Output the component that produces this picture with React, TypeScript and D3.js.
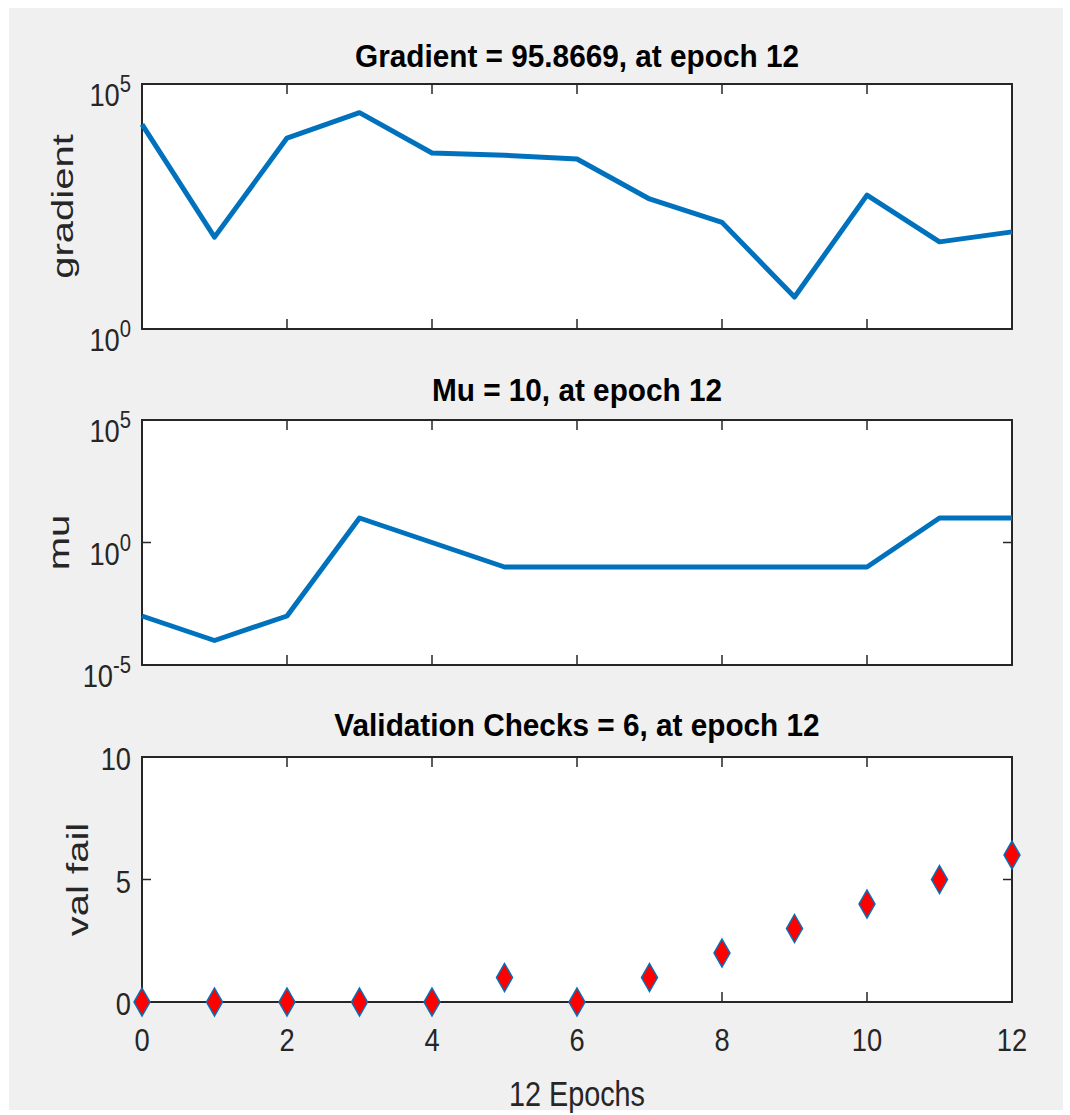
import React from "react";
import * as d3 from "d3";

const epochs = [0, 1, 2, 3, 4, 5, 6, 7, 8, 9, 10, 11, 12];
const gradientValues = [15000, 75, 7900, 26000, 3900, 3500, 2950, 450, 150, 4.5, 540, 60, 95.8669];
const muValues = [0.001, 0.0001, 0.001, 10, 1, 0.1, 0.1, 0.1, 0.1, 0.1, 0.1, 10, 10];
const valFailValues = [0, 0, 0, 0, 0, 1, 0, 1, 2, 3, 4, 5, 6];
const xTicks = [0, 2, 4, 6, 8, 10, 12];
const gradientTicks = [1e0, 1e5];
const muTicks = [1e-5, 1e0, 1e5];
const valTicks = [0, 5, 10];
const titles = ["Gradient = 95.8669, at epoch 12", "Mu = 10, at epoch 12", "Validation Checks = 6, at epoch 12"];
const yLabels = ["gradient", "mu", "val fail"];
const xLabel = "12 Epochs";

const FONT = "'Liberation Sans', Arial, Helvetica, sans-serif";
const AX = "#262626";
const BLUE = "#0072BD";

const L = 142, R = 1012;
const x = d3.scaleLinear().domain([0, 12]).range([L, R]);

const panels = [
  { top: 84, bottom: 329 },
  { top: 420, bottom: 665 },
  { top: 757, bottom: 1002 },
];

function SText({ x, y, sx = 1, sy = 1, rotate = 0, children, ...rest }: any) {
  return (
    <g transform={`translate(${x},${y}) rotate(${rotate}) scale(${sx},${sy})`}>
      <text fontFamily={FONT} {...rest}>{children}</text>
    </g>
  );
}

function Frame({ p, yTickPos }: { p: { top: number; bottom: number }; yTickPos: number[] }) {
  return (
    <g>
      <rect x={L} y={p.top} width={R - L} height={p.bottom - p.top} fill="#fff" />
      {xTicks.map((t) => (
        <g key={t}>
          <line x1={x(t)} x2={x(t)} y1={p.bottom} y2={p.bottom - 10} stroke={AX} strokeWidth={1.5} />
          <line x1={x(t)} x2={x(t)} y1={p.top} y2={p.top + 10} stroke={AX} strokeWidth={1.5} />
        </g>
      ))}
      {yTickPos.map((yy, i) => (
        <g key={i}>
          <line x1={L} x2={L + 9} y1={yy} y2={yy} stroke={AX} strokeWidth={1.5} />
          <line x1={R} x2={R - 9} y1={yy} y2={yy} stroke={AX} strokeWidth={1.5} />
        </g>
      ))}
      <rect x={L} y={p.top} width={R - L} height={p.bottom - p.top} fill="none" stroke={AX} strokeWidth={2} />
    </g>
  );
}

export default function App() {
  const yG = d3.scaleLog().domain([1, 1e5]).range([panels[0].bottom, panels[0].top]);
  const yM = d3.scaleLog().domain([1e-5, 1e5]).range([panels[1].bottom, panels[1].top]);
  const yV = d3.scaleLinear().domain([0, 10]).range([panels[2].bottom, panels[2].top]);

  const lineG = d3.line<number>().x((_, i) => x(epochs[i])).y((d) => yG(d))(gradientValues) || "";
  const lineM = d3.line<number>().x((_, i) => x(epochs[i])).y((d) => yM(d))(muValues) || "";

  const logLabel = (v: number, yy: number, key: string) => {
    const e = Math.round(Math.log10(v));
    return (
      <SText key={key} x={131} y={yy + 22} sx={0.88} textAnchor="end" fontSize={31} fill={AX}>
        10<tspan fontSize={23} dy={-14}>{e < 0 ? "-" + Math.abs(e) : String(e)}</tspan>
      </SText>
    );
  };

  const midX = (L + R) / 2;

  return (
    <svg width={1070} height={1115} style={{ position: "absolute", left: 0, top: 0 }}>
      <rect x={0} y={0} width={1070} height={1115} fill="#fff" />
      <rect x={9} y={8} width={1054} height={1102} fill="#f0f0f0" />

      {/* Panel 1: gradient */}
      <Frame p={panels[0]} yTickPos={gradientTicks.map((t) => yG(t))} />
      <path d={lineG} fill="none" stroke={BLUE} strokeWidth={5} strokeLinejoin="round" />
      {gradientTicks.map((t, i) => logLabel(t, yG(t), "g" + i))}
      <SText x={midX} y={67} sx={0.93} textAnchor="middle" fontSize={32} fontWeight="bold" fill="#000">{titles[0]}</SText>
      <SText x={73} y={(panels[0].top + panels[0].bottom) / 2} rotate={-90} sx={1.25} sy={0.95} textAnchor="middle" fontSize={32} fill={AX}>{yLabels[0]}</SText>

      {/* Panel 2: mu */}
      <Frame p={panels[1]} yTickPos={muTicks.map((t) => yM(t))} />
      <path d={lineM} fill="none" stroke={BLUE} strokeWidth={5} strokeLinejoin="round" />
      {muTicks.map((t, i) => logLabel(t, yM(t), "m" + i))}
      <SText x={midX} y={401} sx={0.93} textAnchor="middle" fontSize={32} fontWeight="bold" fill="#000">{titles[1]}</SText>
      <SText x={69} y={(panels[1].top + panels[1].bottom) / 2} rotate={-90} sx={1.25} sy={0.95} textAnchor="middle" fontSize={32} fill={AX}>{yLabels[1]}</SText>

      {/* Panel 3: validation */}
      <Frame p={panels[2]} yTickPos={valTicks.map((t) => yV(t))} />
      {valFailValues.map((v, i) => {
        const cx = x(epochs[i]);
        const cy = yV(v);
        return (
          <path key={i} d={`M${cx},${cy - 14}L${cx + 8},${cy}L${cx},${cy + 14}L${cx - 8},${cy}Z`} fill="#ff0000" stroke={BLUE} strokeWidth={1.5} />
        );
      })}
      {valTicks.map((t) => (
        <SText key={t} x={131} y={yV(t) + 13} sx={0.88} textAnchor="end" fontSize={31} fill={AX}>{String(t)}</SText>
      ))}
      <SText x={midX} y={736} sx={0.93} textAnchor="middle" fontSize={32} fontWeight="bold" fill="#000">{titles[2]}</SText>
      <SText x={88} y={(panels[2].top + panels[2].bottom) / 2} rotate={-90} sx={1.25} sy={0.95} textAnchor="middle" fontSize={32} fill={AX}>{yLabels[2]}</SText>

      {xTicks.map((t) => (
        <SText key={t} x={x(t)} y={1051} sx={0.88} textAnchor="middle" fontSize={31} fill={AX}>{String(t)}</SText>
      ))}
      <SText x={midX} y={1106} sx={0.8} textAnchor="middle" fontSize={36} fill={AX}>{xLabel}</SText>
    </svg>
  );
}
